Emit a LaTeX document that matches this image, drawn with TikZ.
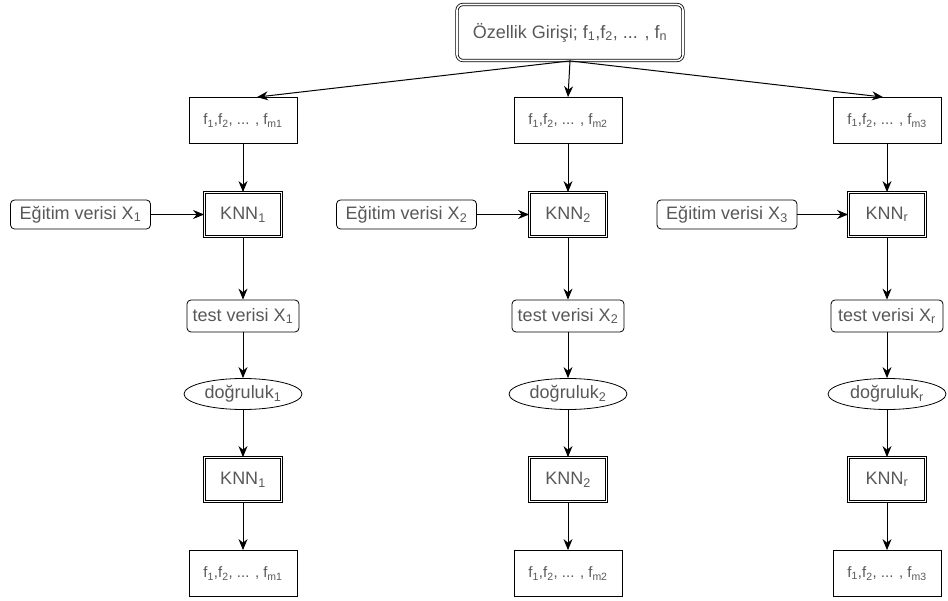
\documentclass[tikz,border=0pt]{standalone}
\usepackage{fontspec}
\setmainfont{Liberation Sans}
\usetikzlibrary{arrows.meta,shapes.geometric,calc}
\definecolor{txtgray}{HTML}{585858}
\begin{document}
\begin{tikzpicture}[x=1pt,y=-1pt,
  every node/.style={text=txtgray, inner sep=0pt, align=center},
  base/.style={draw=black, line width=0.8pt, font=\fontsize{18}{20}\selectfont},
  fbox/.style={base, minimum width=108pt, minimum height=46pt, font=\fontsize{15}{17}\selectfont},
  knn/.style={base, double, double distance=1.6pt, minimum width=77pt, minimum height=44pt},
  topbox/.style={base, double, double distance=1.6pt, rounded corners=6pt, minimum width=226pt, minimum height=56pt},
  databox/.style={base, rounded corners=4pt, minimum width=140pt, minimum height=29pt},
  testbox/.style={base, rounded corners=4pt, minimum width=112pt, minimum height=32pt},
  acc/.style={base, ellipse, minimum width=118pt, minimum height=31pt},
  arr/.style={-{Stealth[length=11pt,width=9pt]}, line width=1pt, draw=black}
]
\useasboundingbox (0,0) rectangle (948,601);

% feature input
\node[topbox] (top) at (570,32.5) {Özellik Girişi; f\textsubscript{1},f\textsubscript{2}, ... , f\textsubscript{n}};

% one column per subset
\foreach \c/\x/\s/\d in {1/243/1/80.5, 2/568/2/406.5, 3/887/r/727} {
  \node[fbox]    (f\c)   at (\x,120.5) {f\textsubscript{1},f\textsubscript{2}, ... , f\textsubscript{m\c}};
  \node[knn]     (ka\c)  at (\x,214.5) {KNN\textsubscript{\s}};
  \node[databox] (d\c)   at (\d,214.5) {Eğitim verisi X\textsubscript{\c}};
  \node[testbox] (t\c)   at (\x,316)   {test verisi X\textsubscript{\s}};
  \node[acc]     (a\c)   at (\x,394)   {doğruluk\textsubscript{\s}};
  \node[knn]     (kb\c)  at (\x,479.5) {KNN\textsubscript{\s}};
  \node[fbox]    (o\c)   at (\x,573.5) {f\textsubscript{1},f\textsubscript{2}, ... , f\textsubscript{m\c}};
  \draw[arr] (f\c) -- (ka\c);
  \draw[arr] (d\c) -- (ka\c);
  \draw[arr] (ka\c) -- (t\c);
  \draw[arr] (t\c) -- (a\c);
  \draw[arr] (a\c) -- (kb\c);
  \draw[arr] (kb\c) -- (o\c);
}

% split of the features
\draw[arr] (top.south) -- ([xshift=14pt]f1.north);
\draw[arr] (top.south) -- (f2.north);
\draw[arr] (top.south) -- ([xshift=-4pt]f3.north);
\end{tikzpicture}
\end{document}
